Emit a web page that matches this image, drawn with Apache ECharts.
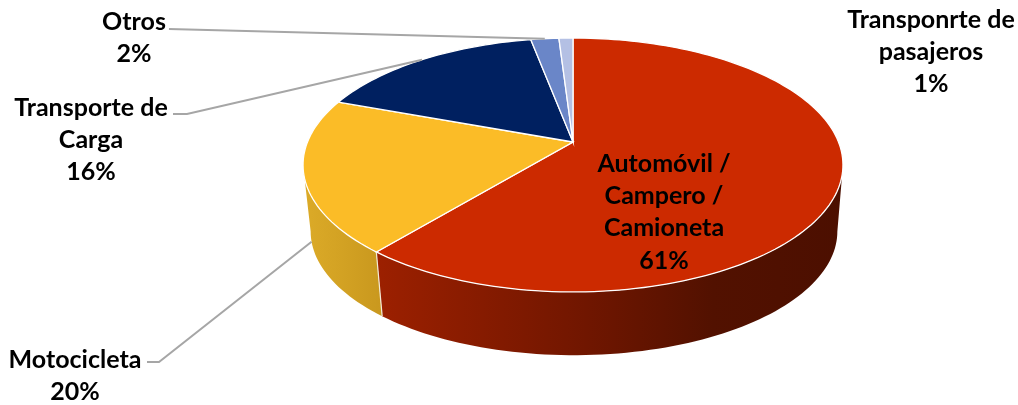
<!DOCTYPE html>
<html>
<head>
<meta charset="utf-8">
<script src="https://cdn.jsdelivr.net/npm/echarts@6/dist/echarts.min.js"></script>
<style>
  html, body { margin: 0; background: #fff; }
  #main { width: 1018px; height: 405px; }
</style>
</head>
<body>
<div id="main"></div>
<script>
// chart data
const categories = ['Automóvil /\nCampero /\nCamioneta', 'Motocicleta', 'Transporte de\nCarga', 'Otros', 'Transponrte de\npasajeros'];
const values = [61, 19.6, 16.4, 2, 1];
const topColors = ['#cc2a00', '#fbbc27', '#002060', '#6a86c8', '#b4c0e4'];

// label layout: centre of each text block, and where its leader starts
const labelCenters = [[664, 212], [75, 376], [91, 140], [134, 38], [931, 52]];
const leaderStarts = [null, [[147, 362], [159, 362]], [[173, 114], [187, 114]], [[169, 29]], null];
const leaderOnWall = [false, true, false, false, false];

// the pie is a disc in perspective: the apex sits above the middle of the ellipse
const k = -0.181;
const topFace = { cx: 573, cy: 142, a: 265.5, b: 122.8 };
const baseFace = { cx: 574, cy: 209, a: 259, b: 119.7 };
// the wall shows only between the two points where the rim turns back
const wallFrom = 0.25 + Math.asin(-k) / (2 * Math.PI);
const wallTo = 1 - wallFrom;

const total = values.reduce((s, v) => s + v, 0);
const starts = [];
values.reduce((s, v, i) => { starts[i] = s; return s + v; }, 0);

// f is the fraction of the pie, clockwise from 12 o'clock
function rim(face, f) {
  const t = f * 2 * Math.PI;
  const u = Math.sin(t), v = -Math.cos(t);
  const w = 1 + k * v;
  return [face.cx + face.a * u / w, face.cy + face.b * v / w];
}
function arc(face, f1, f2) {
  const n = Math.max(2, Math.ceil((f2 - f1) * 240));
  const pts = [];
  for (let i = 0; i <= n; i++) pts.push(rim(face, f1 + (f2 - f1) * i / n));
  return pts;
}
function range(i) {
  return [starts[i] / total, (starts[i] + values[i]) / total];
}

const wallFills = [
  new echarts.graphic.LinearGradient(378, 0, 843, 0, [
    { offset: 0, color: '#9c2000' },
    { offset: 0.45, color: '#701600' },
    { offset: 0.72, color: '#521100' },
    { offset: 1, color: '#4c0f00' }
  ], true),
  new echarts.graphic.LinearGradient(303, 0, 382, 0, [
    { offset: 0, color: '#dcab28' },
    { offset: 1, color: '#c9981e' }
  ], true),
  '#001648', '#4c6090', '#8490ac'
];

function renderWall(params) {
  const i = params.dataIndex;
  const [s, e] = range(i);
  const f1 = Math.max(s, wallFrom), f2 = Math.min(e, wallTo);
  if (f2 <= f1) return { type: 'group', children: [] };
  const pts = arc(topFace, f1, f2).concat(arc(baseFace, f1, f2).reverse());
  const children = [{ type: 'polygon', shape: { points: pts }, style: { fill: wallFills[i] } }];
  if (s >= wallFrom) {
    children.push({ type: 'line',
      shape: { x1: rim(topFace, s)[0], y1: rim(topFace, s)[1], x2: rim(baseFace, s)[0], y2: rim(baseFace, s)[1] },
      style: { stroke: '#f2ead8', lineWidth: 1.2 } });
  }
  return { type: 'group', children: children };
}

function renderTop(params) {
  const i = params.dataIndex;
  const [f1, f2] = range(i);
  const pts = [[topFace.cx, topFace.cy]].concat(arc(topFace, f1, f2));
  return { type: 'polygon', shape: { points: pts }, style: { fill: topColors[i], stroke: '#fff', lineWidth: 1.3 } };
}

function renderLabel(params) {
  const i = params.dataIndex;
  const children = [];
  if (leaderStarts[i]) {
    const [f1, f2] = range(i);
    const end = rim(leaderOnWall[i] ? baseFace : topFace, (f1 + f2) / 2);
    children.push({ type: 'polyline', shape: { points: leaderStarts[i].concat([end]) },
      style: { fill: null, stroke: '#a6a6a6', lineWidth: 2 } });
  }
  children.push({
    type: 'text',
    style: {
      x: labelCenters[i][0], y: labelCenters[i][1],
      text: categories[i] + '\n' + Math.round(values[i]) + '%',
      align: 'center', verticalAlign: 'middle',
      font: 'bold 25px Lato', lineHeight: 32.3, fill: '#000'
    }
  });
  return { type: 'group', children: children };
}

const myChart = echarts.init(document.getElementById('main'));
myChart.setOption({
  backgroundColor: '#fff',
  animation: false,
  tooltip: { show: false },
  series: [
    { type: 'custom', coordinateSystem: 'none', data: values, renderItem: renderWall, z: 1, silent: true },
    { type: 'custom', coordinateSystem: 'none', data: values, renderItem: renderTop, z: 2, silent: true },
    { type: 'custom', coordinateSystem: 'none', data: values, renderItem: renderLabel, z: 3, silent: true }
  ]
});
</script>
</body>
</html>
